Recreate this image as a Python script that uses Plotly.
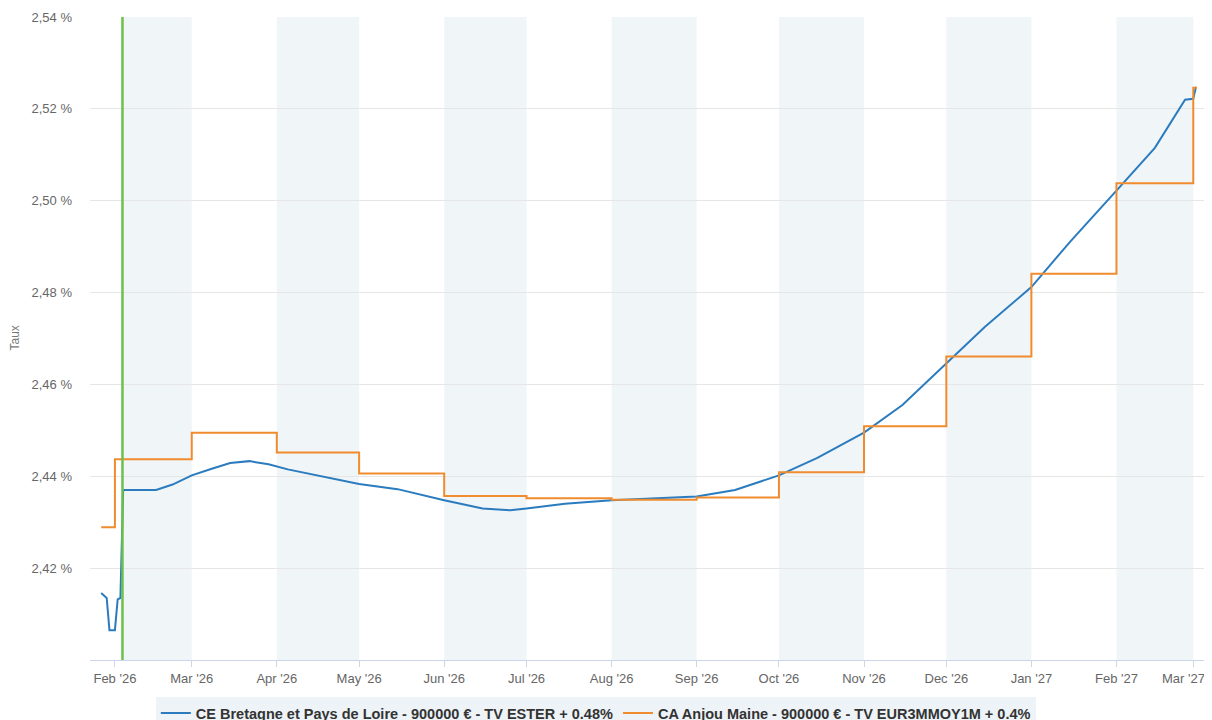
import plotly.graph_objects as go

# ---- data ----
blue_name = "CE Bretagne et Pays de Loire - 900000 € - TV ESTER + 0.48%"
blue_dates = ["2026-01-27", "2026-01-29", "2026-01-30", "2026-02-01", "2026-02-02", "2026-02-03",
              "2026-02-04", "2026-02-16", "2026-02-22", "2026-03-01", "2026-03-08", "2026-03-15",
              "2026-03-22", "2026-03-29", "2026-04-05", "2026-04-15", "2026-05-01", "2026-05-15",
              "2026-06-01", "2026-06-15", "2026-06-25", "2026-07-01", "2026-07-15", "2026-08-01",
              "2026-08-15", "2026-09-01", "2026-09-15", "2026-10-01", "2026-10-15", "2026-11-01",
              "2026-11-15", "2026-12-01", "2026-12-15", "2027-01-01", "2027-01-15", "2027-02-01",
              "2027-02-15", "2027-02-26", "2027-03-01", "2027-03-02"]
blue_vals = [2.4146, 2.4135, 2.4065, 2.4065, 2.4132, 2.4135,
             2.4370, 2.4370, 2.4382, 2.4402, 2.4416, 2.4429,
             2.4433, 2.4426, 2.4415, 2.4403, 2.4383, 2.4372,
             2.4348, 2.4330, 2.4326, 2.4330, 2.4340, 2.4348,
             2.4351, 2.4356, 2.4370, 2.4402, 2.4440, 2.4495,
             2.4555, 2.4645, 2.4725, 2.4812, 2.4910, 2.5022,
             2.5115, 2.5220, 2.5222, 2.5248]

orange_name = "CA Anjou Maine - 900000 € - TV EUR3MMOY1M + 0.4%"
orange_dates = ["2026-01-27", "2026-02-01", "2026-03-01", "2026-04-01", "2026-05-01", "2026-06-01",
                "2026-07-01", "2026-08-01", "2026-09-01", "2026-10-01", "2026-11-01", "2026-12-01",
                "2027-01-01", "2027-02-01", "2027-03-01", "2027-03-02"]
orange_vals = [2.4289, 2.4437, 2.4495, 2.4452, 2.4406, 2.4357,
               2.4352, 2.4349, 2.4354, 2.4409, 2.4509, 2.4661,
               2.4841, 2.5038, 2.5246, 2.5248]

today = "2026-02-03 18:00"

month_ticks = ["2026-02-01", "2026-03-01", "2026-04-01", "2026-05-01", "2026-06-01", "2026-07-01",
               "2026-08-01", "2026-09-01", "2026-10-01", "2026-11-01", "2026-12-01", "2027-01-01",
               "2027-02-01", "2027-03-01"]
month_labels = ["Feb '26", "Mar '26", "Apr '26", "May '26", "Jun '26", "Jul '26", "Aug '26",
                "Sep '26", "Oct '26", "Nov '26", "Dec '26", "Jan '27", "Feb '27", "Mar '27"]

band_starts = [today, "2026-04-01", "2026-06-01", "2026-08-01", "2026-10-01", "2026-12-01", "2027-02-01"]
band_ends = ["2026-03-01", "2026-05-01", "2026-07-01", "2026-09-01", "2026-11-01", "2027-01-01", "2027-03-01"]

y_ticks = [2.42, 2.44, 2.46, 2.48, 2.50, 2.52, 2.54]
y_labels = ["2,42 %", "2,44 %", "2,46 %", "2,48 %", "2,50 %", "2,52 %", "2,54 %"]

FONT = "Liberation Sans, Arial, sans-serif"

fig = go.Figure()
fig.add_trace(go.Scatter(x=blue_dates, y=blue_vals, mode="lines", name=blue_name,
                         line=dict(color="#2b7bbf", width=2)))
fig.add_trace(go.Scatter(x=orange_dates, y=orange_vals, mode="lines", name=orange_name,
                         line=dict(color="#f08c2e", width=2, shape="hv")))

shapes = []
for s, e in zip(band_starts, band_ends):
    shapes.append(dict(type="rect", xref="x", yref="paper", x0=s, x1=e, y0=0, y1=1,
                       fillcolor="#f0f5f8", line=dict(width=0), layer="below"))
shapes.append(dict(type="line", xref="x", yref="paper", x0=today, x1=today, y0=0, y1=1,
                   line=dict(color="#6cc04a", width=2.5), layer="above"))

# last month label is justified inward (as the original chart does) via an annotation
tick_text = month_labels[:-1] + [""]
annotations = [
    dict(text="Taux", xref="paper", yref="paper", x=-0.068, y=0.5,
         textangle=-90, showarrow=False, xanchor="center", yanchor="middle",
         font=dict(family=FONT, size=12, color="#777777")),
    dict(text=month_labels[-1], xref="x", yref="paper", x=month_ticks[-1], y=0,
         xanchor="right", yanchor="middle", xshift=14, yshift=-18, showarrow=False,
         font=dict(family=FONT, size=13, color="#666666")),
]

# the page body adds an 8px offset; margins compensate for it
fig.update_layout(
    width=1212, height=720,
    margin=dict(l=82, r=13, t=9, b=68, autoexpand=False),
    paper_bgcolor="white", plot_bgcolor="white",
    font=dict(family=FONT, size=13, color="#666666"),
    shapes=shapes,
    showlegend=True,
    legend=dict(orientation="h", xref="container", yref="container", x=0.485, xanchor="center",
                y=0.043, yanchor="top", bgcolor="#eef3f7",
                font=dict(family=FONT, size=14.5, color="#333333", weight="bold"),
                itemwidth=30, tracegroupgap=0),
    xaxis=dict(type="date", range=["2026-01-22 22:00", "2027-03-06"], automargin=False,
               tickvals=month_ticks, ticktext=tick_text, showgrid=False,
               ticks="outside", ticklen=6, tickcolor="#ccd6eb", ticklabeloverflow="allow",
               showline=True, linecolor="#ccd6eb", linewidth=1,
               tickfont=dict(size=13, color="#666666"), zeroline=False),
    yaxis=dict(range=[2.40, 2.54], tickvals=y_ticks, ticktext=y_labels, automargin=False,
               showgrid=True, gridcolor="#e6e6e6", gridwidth=1, zeroline=False,
               showline=False, ticks="", ticklabelstandoff=17,
               tickfont=dict(size=13, color="#666666")),
    annotations=annotations,
)

fig.write_html("out.html")
